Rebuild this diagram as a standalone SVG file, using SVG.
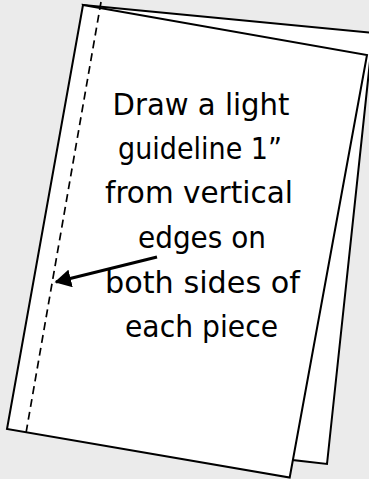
<svg xmlns="http://www.w3.org/2000/svg" width="369" height="479" viewBox="0 0 369 479">
<style>
.page{fill:#ffffff;stroke:#000000;stroke-width:2;stroke-linejoin:miter}
.guide{fill:none;stroke:#000000;stroke-width:1.7;stroke-dasharray:8 5}
.lbl{font-family:"DejaVu Sans",sans-serif;font-size:31px;fill:#000000;text-anchor:middle}
.arrow{stroke:#000000;stroke-width:3;fill:none}
</style>
<defs>
<marker id="ah" markerWidth="6" markerHeight="6" refX="5" refY="3" orient="auto" markerUnits="strokeWidth">
<path d="M0,0 L5.5,3 L0,6 z" fill="#000000"/>
</marker>
</defs>
<rect width="369" height="479" fill="#ebebeb"/>
<g id="back-piece">
<polygon class="page" points="83,5 373,33 327,464 292.7,460"/>
</g>
<g id="front-piece">
<polygon class="page" points="83,5 367,55 289.7,477.5 7,429"/>
<line class="guide" x1="101" y1="2" x2="26" y2="433"/>
</g>
<g id="label">
<text class="lbl" x="201" y="115" textLength="177" lengthAdjust="spacingAndGlyphs">Draw a light</text>
<text class="lbl" x="200" y="159" textLength="164" lengthAdjust="spacingAndGlyphs">guideline 1”</text>
<text class="lbl" x="199" y="203" textLength="188" lengthAdjust="spacingAndGlyphs">from vertical</text>
<text class="lbl" x="202" y="248" textLength="128" lengthAdjust="spacingAndGlyphs">edges on</text>
<text class="lbl" x="202.5" y="293" textLength="195" lengthAdjust="spacingAndGlyphs">both sides of</text>
<text class="lbl" x="201.5" y="337" textLength="153" lengthAdjust="spacingAndGlyphs">each piece</text>
</g>
<g id="connectors">
<line class="arrow" x1="157" y1="257" x2="56" y2="282" marker-end="url(#ah)"/>
</g>
</svg>
